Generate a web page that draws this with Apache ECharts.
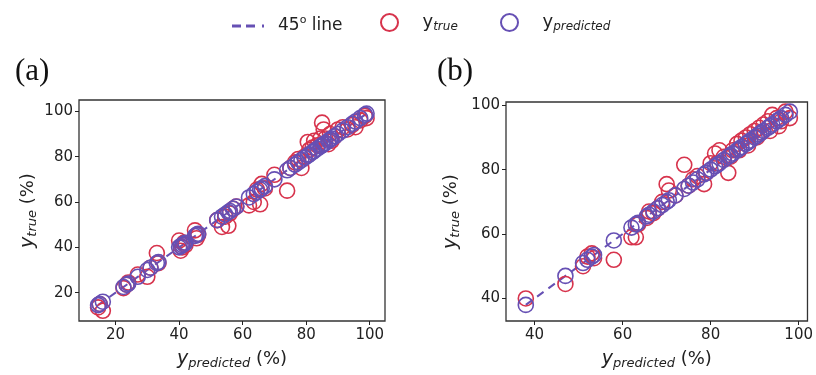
<!DOCTYPE html>
<html>
<head>
<meta charset="utf-8">
<script src="https://cdn.jsdelivr.net/npm/echarts@6/dist/echarts.min.js"></script>
<style>
  html, body { margin: 0; padding: 0; background: #fff; }
  #chart { width: 816px; height: 375px; }
</style>
</head>
<body>
<div id="chart"></div>
<script>
  // panel (a): predicted vs true
  var predA = [14.5, 15, 16, 22.5, 23.5, 24, 27, 30, 31, 33, 33.5, 40, 40.5, 41, 41.5, 42, 45, 45.5, 46,
    52, 53.5, 54.5, 55.5, 56, 57, 58, 62, 63.5, 64.5, 65.5, 66, 67, 70, 74, 75, 76.5, 77.5, 78.5, 79.5,
    80.5, 81, 82, 82.5, 83.5, 84.5, 85, 85.5, 86, 87, 87.5, 88, 89, 90, 91.5, 93, 94.5, 95.5, 97, 98.5, 99]
  var trueA = [13.5, 15, 12, 22, 23.5, 24.5, 28, 27, 31, 37.5, 33, 43, 38.5, 40, 42, 41, 47.5, 44, 45.5,
    52, 49, 53.5, 49.5, 55, 57, 58, 58.5, 60, 65.5, 59, 68, 66, 72, 65, 75, 77.5, 79, 75, 80,
    86.5, 83, 84, 87, 85, 88, 95, 92, 88, 85.5, 90, 87, 89, 92, 93, 92, 94, 93, 96, 98, 97]
  // panel (b)
  var predB = [38, 47, 51, 52, 53, 53.5, 58, 62, 63, 63.5, 65.5, 66, 67, 68, 69, 70, 70.5, 72, 74, 75,
    76, 77, 78.5, 79, 80, 81, 81.5, 82, 83, 84, 84.5, 85, 86, 86.5, 87, 88, 88.5, 89, 90, 90.5, 91,
    91.5, 92, 93, 93.5, 94, 95, 95.5, 96, 97, 98]
  var trueB = [40, 44.5, 50, 53, 54, 52.5, 52, 59, 59, 63, 65, 67, 66.5, 68, 70, 75.5, 73.5, 72, 81.5, 75,
    77, 78, 75.5, 79, 82, 85, 82, 86, 84, 79, 84, 86, 88, 86, 89, 90, 87.5, 91, 92, 90, 93,
    91.5, 94, 95, 92, 97, 96, 93.5, 95, 98, 96]
  var ticksA = [20, 40, 60, 80, 100]
  var ticksB = [40, 60, 80, 100]
  var xRangeA = [8.5, 104.8]
  var yRangeA = [7.5, 105]
  var xRangeB = [33.5, 102]
  var yRangeB = [33, 101]

  var red = '#d7334c'
  var purple = '#6650b4'
  var font = 'DejaVu Sans'

  function pairs(xs, ys) {
    var out = []
    for (var i = 0; i < xs.length; i++) out.push([xs[i], ys[i]])
    return out
  }
  function diag(xs) {
    return [[xs[0], xs[0]], [xs[xs.length - 1], xs[xs.length - 1]]]
  }

  var nameRich = {
    i: { fontFamily: font, fontStyle: 'italic', fontSize: 19, color: '#222' },
    s: { fontFamily: font, fontStyle: 'italic', fontSize: 13, color: '#222', padding: [9, 0, 0, 0] },
    n: { fontFamily: font, fontSize: 18, color: '#222' }
  }

  function xAxis(idx, range, ticks) {
    return {
      gridIndex: idx, type: 'value', min: range[0], max: range[1],
      name: '{i|y}{s|predicted}{n| (%)}', nameLocation: 'middle', nameGap: 27,
      nameTextStyle: { rich: nameRich },
      axisLine: { show: false },
      splitLine: { show: false },
      axisTick: { show: true, length: 4, lineStyle: { color: '#222' }, customValues: ticks },
      axisLabel: { fontFamily: font, fontSize: 15, color: '#222', margin: 7, customValues: ticks }
    }
  }
  function yAxis(idx, range, ticks, gap) {
    return {
      gridIndex: idx, type: 'value', min: range[0], max: range[1],
      name: '{i|y}{s|true}{n| (%)}', nameLocation: 'middle', nameGap: gap, nameRotate: 90,
      nameTextStyle: { rich: nameRich },
      axisLine: { show: false },
      splitLine: { show: false },
      axisTick: { show: true, length: 4, lineStyle: { color: '#222' }, customValues: ticks },
      axisLabel: { fontFamily: font, fontSize: 15, color: '#222', margin: 6, customValues: ticks }
    }
  }
  function lineSeries(idx, xs) {
    return {
      name: '45° line', type: 'line', xAxisIndex: idx, yAxisIndex: idx,
      data: diag(xs), symbol: 'none', z: 1, color: purple,
      lineStyle: { color: purple, width: 2, type: [8, 6] }
    }
  }
  function scatter(name, idx, data, color, z) {
    return {
      name: name, type: 'scatter', xAxisIndex: idx, yAxisIndex: idx, data: data,
      symbol: 'circle', symbolSize: 15, z: z,
      itemStyle: { color: 'rgba(255,255,255,0)', opacity: 1, borderColor: color, borderWidth: 1.6 }
    }
  }

  var legendText = {
    fontFamily: font, fontSize: 17, color: '#222',
    rich: {
      a: { fontFamily: font, fontSize: 17, color: '#222' },
      p: { fontFamily: font, fontSize: 17, color: '#222', padding: [0, 0, 0, 8] },
      sup: { fontFamily: font, fontSize: 11, color: '#222', padding: [0, 0, 11, 0] },
      i: { fontFamily: font, fontSize: 18, color: '#222', padding: [0, 0, 0, 10] },
      s: { fontFamily: font, fontStyle: 'italic', fontSize: 12, color: '#222', padding: [8, 0, 0, 0] }
    }
  }
  function legendFmt(name) {
    if (name === '45° line') return '{p|45}{sup|o}{a| line}'
    if (name === 'y_true') return '{i|y}{s|true}'
    return '{i|y}{s|predicted}'
  }
  var dashIcon = 'path://M0,0L9,0L9,3L0,3Z M14,0L23,0L23,3L14,3Z M30,0L32,0L32,3L30,3Z'

  var myChart = echarts.init(document.getElementById('chart'), null, { renderer: 'canvas' })
  var option = {
    backgroundColor: '#fff',
    animation: false,
    title: [
      { text: '(a)', left: 10, top: 51, textStyle: { fontFamily: 'Liberation Serif', fontSize: 31, fontWeight: 'normal', color: '#111' } },
      { text: '(b)', left: 432, top: 51, textStyle: { fontFamily: 'Liberation Serif', fontSize: 31, fontWeight: 'normal', color: '#111' } }
    ],
    legend: [
      { data: [{ name: '45° line', icon: dashIcon, itemStyle: { color: purple, borderWidth: 0 } }],
        left: 227, top: 10, itemWidth: 34, itemHeight: 3, formatter: legendFmt, textStyle: legendText },
      { data: ['y_true'], left: 375, top: 8, itemWidth: 36, itemHeight: 17, formatter: legendFmt, textStyle: legendText },
      { data: ['y_predicted'], left: 495, top: 8, itemWidth: 36, itemHeight: 17, formatter: legendFmt, textStyle: legendText }
    ],
    grid: [
      { left: 79, top: 100, width: 306, height: 230, show: true, borderColor: '#333', borderWidth: 1.3, backgroundColor: '#fff' },
      { left: 506, top: 102, width: 302, height: 228, show: true, borderColor: '#333', borderWidth: 1.3, backgroundColor: '#fff' }
    ],
    xAxis: [xAxis(0, xRangeA, ticksA), xAxis(1, xRangeB, ticksB)],
    yAxis: [yAxis(0, yRangeA, ticksA, 40), yAxis(1, yRangeB, ticksB, 44)],
    series: [
      lineSeries(0, predA),
      scatter('y_true', 0, pairs(predA, trueA), red, 2),
      scatter('y_predicted', 0, pairs(predA, predA), purple, 3),
      lineSeries(1, predB),
      scatter('y_true', 1, pairs(predB, trueB), red, 2),
      scatter('y_predicted', 1, pairs(predB, predB), purple, 3)
    ]
  }
  myChart.setOption(option)
</script>
</body>
</html>
